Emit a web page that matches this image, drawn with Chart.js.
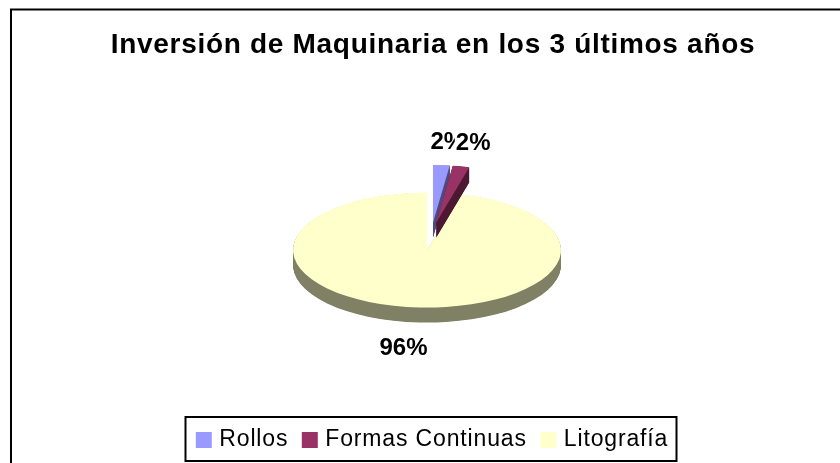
<!DOCTYPE html>
<html><head><meta charset="utf-8">
<style>html,body{margin:0;padding:0;background:#fff}canvas{display:block}</style>
<script src="https://cdn.jsdelivr.net/npm/chart.js@4/dist/chart.umd.min.js"></script>
</head><body><canvas id="c" width="840" height="463"></canvas>
<script>
const categories = ['Rollos', 'Formas Continuas', 'Litografía'];
const values = [2, 2, 96];
const valueLabels = ['2%', '2%', '96%'];
const topColors = ['#9999FF', '#993366', '#FFFFCC'];
const sideColors = ['#4D4D80', '#4D1933', '#808066'];
const explode = [64, 64, 0];
const explodeNudgeX = [2, -3, 0];
const labelNudgeX = [5, -1, 0];
const titleText = 'Inversión de Maquinaria en los 3 últimos años';
const FONT = '"Liberation Sans", Arial, sans-serif';
const CX = 427, CY = 250, SQUASH = 0.43, DEPTH = 15, RADIUS = 134;
const LEGEND_SPACING = '0.85px', TITLE_SPACING = '0.7px';

const pie3d = {
  id: 'pie3d',
  beforeUpdate(c){ c.ctx.letterSpacing = LEGEND_SPACING; },
  afterLayout(c){
    const l = c.legend, dx = 1;
    l.left += dx; l.right += dx;
    const h = l.bottom - l.top; l.top = 411; l.bottom = 411 + h;
  },
  beforeDraw(c){
    const x = c.ctx; x.letterSpacing = LEGEND_SPACING;
    const t = c.titleBlock;
    if (!t._spaced) {
      const d = t.draw; t._spaced = true;
      t.draw = function(area){ x.save(); x.letterSpacing = TITLE_SPACING; d.call(t, area); x.restore(); };
    }
    x.save(); x.fillStyle = '#fff'; x.fillRect(0,0,840,463);
    x.strokeStyle = '#000'; x.lineWidth = 2; x.strokeRect(11, 9.5, 900, 600);
    x.restore();
  },
  beforeDatasetsDraw(c){
    const ctx = c.ctx, arcs = c.getDatasetMeta(0).data;
    const wedge = (a, i, d, color) => {
      const mid = (a.startAngle + a.endAngle) / 2;
      const ox = CX + Math.cos(mid) * explode[i] + explodeNudgeX[i];
      const oy = Math.sin(mid) * explode[i] + d / SQUASH;
      ctx.fillStyle = color;
      ctx.beginPath();
      ctx.moveTo(ox, oy);
      ctx.arc(ox, oy, a.outerRadius, a.startAngle, a.endAngle);
      ctx.closePath();
      ctx.fill();
    };
    ctx.save();
    ctx.translate(0, CY); ctx.scale(1, SQUASH);
    [2,0,1].forEach(i => {
      for (let d = DEPTH; d > 0; d -= 0.5) wedge(arcs[i], i, d, sideColors[i]);
      wedge(arcs[i], i, 0, topColors[i]);
    });
    ctx.restore();
    // value labels
    ctx.save();
    ctx.font = 'bold 24px ' + FONT;
    ctx.letterSpacing = '0px';
    ctx.textAlign = 'center'; ctx.textBaseline = 'middle';
    arcs.forEach((a, i) => {
      const mid = (a.startAngle + a.endAngle) / 2;
      const r = RADIUS * 1.4 + explode[i];
      const lx = CX + Math.cos(mid) * r + labelNudgeX[i];
      const below = Math.sin(mid) > 0;
      const ly = CY + Math.sin(mid) * r * SQUASH + (below ? DEPTH + 3 : 0);
      const w = ctx.measureText(valueLabels[i]).width;
      ctx.fillStyle = '#fff';
      ctx.fillRect(lx - w/2 - 1, ly - 13, w + 2, 26);
      ctx.fillStyle = '#000';
      ctx.fillText(valueLabels[i], lx, ly);
    });
    ctx.restore();
    return false;
  },
  afterDraw(c){
    const x = c.ctx; x.save();
    x.strokeStyle = '#000'; x.lineWidth = 2;
    x.strokeRect(185.5, 417, 491, 44);
    x.restore();
  }
};

new Chart(document.getElementById('c'), {
  type: 'pie',
  data: { labels: categories, datasets: [{ data: values, backgroundColor: topColors, borderWidth: 0, radius: RADIUS }] },
  options: {
    responsive: false, animation: false, devicePixelRatio: 1,
    layout: { padding: { left: 26, right: 0, top: 0, bottom: 0 } },
    plugins: {
      tooltip: { enabled: false },
      title: { display: true, text: titleText, color: '#000', font: { family: FONT, size: 28, weight: 'bold' }, padding: { top: 28, bottom: 10 } },
      legend: { position: 'bottom', labels: {
        boxWidth: 8, boxHeight: 8, padding: 17.5, color: '#000', font: { family: FONT, size: 23 },
        generateLabels: () => categories.map((t, i) => ({ text: t, fillStyle: topColors[i], strokeStyle: topColors[i], lineWidth: 8, index: i, hidden: false }))
      } }
    }
  },
  plugins: [pie3d]
});
</script></body></html>
